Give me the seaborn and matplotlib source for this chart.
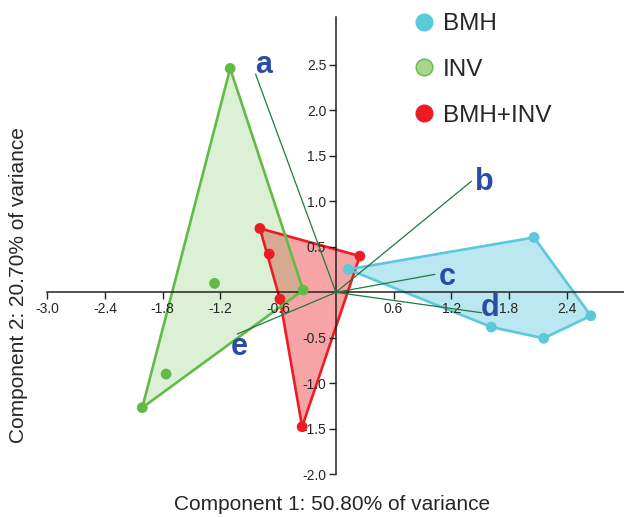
import numpy as np
import pandas as pd
import matplotlib
matplotlib.use("Agg")
import matplotlib.pyplot as plt
import seaborn as sns
from matplotlib.patches import Polygon
from matplotlib.lines import Line2D

# sample scores on the first two components
bmh_x = [0.128, 2.06, 2.65, 2.16, 1.615]
bmh_y = [0.253, 0.604, -0.257, -0.505, -0.381]
inv_x = [-1.099, -0.34, -2.013, -1.261, -1.765]
inv_y = [2.462, 0.025, -1.268, 0.099, -0.898]
mix_x = [-0.79, 0.249, -0.351, -0.582, -0.693]
mix_y = [0.703, 0.399, -1.477, -0.074, 0.421]

# hull vertices (indices into the arrays above)
bmh_hull = [0, 1, 2, 3, 4]
inv_hull = [0, 1, 2]
mix_hull = [0, 1, 2, 3]

# loading vectors
load_names = ["a", "b", "c", "d", "e"]
load_x = [-0.835, 1.41, 1.03, 1.515, -1.025]
load_y = [2.399, 1.223, 0.198, -0.224, -0.458]
label_x = [-0.748, 1.54, 1.154, 1.60, -1.008]
label_y = [2.50, 1.21, 0.168, -0.172, -0.60]

groups = ["BMH", "INV", "BMH+INV"]
line_colors = {"BMH": "#5bc8dc", "INV": "#62bb47", "BMH+INV": "#ed1c24"}
fill_alpha = {"BMH": 0.42, "INV": 0.22, "BMH+INV": 0.4}

xticks = [-3.0, -2.4, -1.8, -1.2, -0.6, 0.6, 1.2, 1.8, 2.4]
yticks = [-2.0, -1.5, -1.0, -0.5, 0.5, 1.0, 1.5, 2.0, 2.5]

df = pd.DataFrame({
    "x": bmh_x + inv_x + mix_x,
    "y": bmh_y + inv_y + mix_y,
    "group": ["BMH"] * len(bmh_x) + ["INV"] * len(inv_x) + ["BMH+INV"] * len(mix_x),
})

sns.set_style("white")
plt.rcParams["font.family"] = ["Liberation Sans", "DejaVu Sans"]

fig = plt.figure(figsize=(6.24, 5.17), dpi=100)
ax = fig.add_axes([0.0758, 0.0826, 0.925, 0.885])
ax.set_axisbelow(False)

hulls = {
    "BMH+INV": (mix_x, mix_y, mix_hull),
    "INV": (inv_x, inv_y, inv_hull),
    "BMH": (bmh_x, bmh_y, bmh_hull),
}
for g in ["BMH+INV", "INV", "BMH"]:
    xs, ys, idx = hulls[g]
    pts = [(xs[i], ys[i]) for i in idx]
    ax.add_patch(Polygon(pts, closed=True, facecolor=line_colors[g],
                         alpha=fill_alpha[g], edgecolor="none", zorder=1.5))
    ax.add_patch(Polygon(pts, closed=True, facecolor="none",
                         edgecolor=line_colors[g], lw=1.9, zorder=1.6))

# loadings
for name, lx, ly, tx, ty in zip(load_names, load_x, load_y, label_x, label_y):
    ax.plot([0, lx], [0, ly], color="#1e7b3e", lw=0.9, zorder=3)
    ax.text(tx, ty, name, color="#2b4ba6", fontsize=22, fontweight="bold",
            ha="center", va="center", zorder=5)

sns.scatterplot(data=df, x="x", y="y", hue="group", palette=line_colors,
                s=60, edgecolor="none", legend=False, ax=ax, zorder=4)

ax.set_xlim(-3.0, 3.0)
ax.set_ylim(-2.0, 3.03)
for side in ["top", "right"]:
    ax.spines[side].set_visible(False)
ax.spines["left"].set_position(("data", 0))
ax.spines["bottom"].set_position(("data", 0))
for side in ["left", "bottom"]:
    ax.spines[side].set_color("#222222")
    ax.spines[side].set_linewidth(1.1)

ax.set_xticks(xticks)
ax.set_xticklabels([f"{t:.1f}" for t in xticks])
ax.set_yticks(yticks)
ax.set_yticklabels([f"{t:.1f}" for t in yticks])
ax.tick_params(axis="both", which="major", labelsize=10, length=5, width=1,
               color="#222222", pad=2, direction="out",
               bottom=True, left=True)
ax.set_xlabel("")
ax.set_ylabel("")

fig.text(332 / 624, 1 - 504 / 517, "Component 1: 50.80% of variance",
         ha="center", va="center", fontsize=15)
fig.text(19 / 624, 1 - 285 / 517, "Component 2: 20.70% of variance",
         ha="center", va="center", rotation=90, fontsize=15)

handles = [
    Line2D([], [], ls="none", marker="o", markersize=12,
           markerfacecolor="#5bc8dc", markeredgecolor="#5bc8dc"),
    Line2D([], [], ls="none", marker="o", markersize=12,
           markerfacecolor="#a8d68f", markeredgecolor="#62bb47"),
    Line2D([], [], ls="none", marker="o", markersize=12,
           markerfacecolor="#ed1c24", markeredgecolor="#ed1c24"),
]
fig.legend(handles, groups, loc="upper left",
           bbox_to_anchor=(414 / 624, 1 - 13 / 517), frameon=False,
           fontsize=17.5, handlelength=0.8, handletextpad=0.4,
           labelspacing=0.98, borderpad=0, borderaxespad=0)

fig.savefig("out.png", dpi=100)
